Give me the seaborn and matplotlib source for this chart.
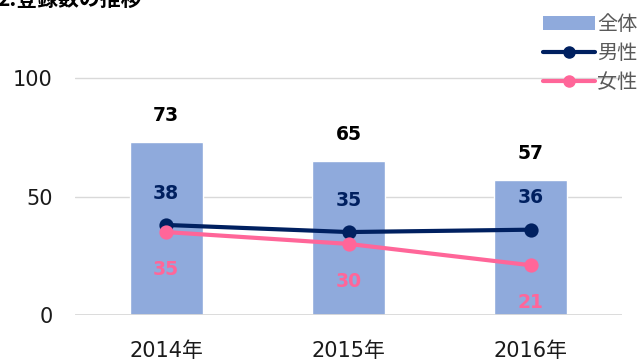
import matplotlib
matplotlib.use("Agg")
import matplotlib.pyplot as plt
import seaborn as sns
import pandas as pd
from matplotlib.patches import Patch
from matplotlib.lines import Line2D

sns.set_theme(style="white")
plt.rcParams["font.family"] = ["DejaVu Sans", "Noto Sans CJK JP"]

years = ["2014年", "2015年", "2016年"]
total = [73, 65, 57]
male = [38, 35, 36]
female = [35, 30, 21]

BAR = "#8FAADC"
MALE = "#002060"
FEMALE = "#FF6699"

df = pd.DataFrame({"year": years, "total": total, "male": male, "female": female})

fig = plt.figure(figsize=(6.39, 3.61), dpi=100)
ax = fig.add_axes([0.1174, 0.1274, 0.856, 0.7222])

sns.barplot(data=df, x="year", y="total", color=BAR, width=0.4, saturation=1, ax=ax)
sns.pointplot(data=df, x="year", y="male", color=MALE, markers="o",
              linewidth=3, markersize=8, ax=ax)
sns.pointplot(data=df, x="year", y="female", color=FEMALE, markers="o",
              linewidth=3, markersize=8, ax=ax)

ax.set_xlim(-0.5, 2.5)
ax.set_ylim(0, 110)
ax.set_yticks([0, 50, 100])
ax.yaxis.grid(True, color="#D9D9D9", linewidth=1)
ax.set_axisbelow(True)
ax.axhline(0, color="#D9D9D9", linewidth=2, zorder=1.5)
for s in ax.spines.values():
    s.set_visible(False)
ax.set_xlabel("")
ax.set_ylabel("")
ax.tick_params(axis="y", length=0, pad=16, labelsize=15, labelcolor="#1a1a1a")
ax.tick_params(axis="x", length=0, pad=19, labelsize=15, labelcolor="#1a1a1a")

# value labels
for i in range(len(years)):
    ax.annotate(str(total[i]), (i, total[i]), xytext=(0, 12), textcoords="offset points",
                ha="center", va="bottom", fontsize=13.5, fontweight="bold", color="black")
    ax.annotate(str(male[i]), (i, male[i]), xytext=(0, 16), textcoords="offset points",
                ha="center", va="bottom", fontsize=13.5, fontweight="bold", color=MALE)
    ax.annotate(str(female[i]), (i, female[i]), xytext=(0, -20), textcoords="offset points",
                ha="center", va="top", fontsize=13.5, fontweight="bold", color=FEMALE)

handles = [
    Patch(facecolor=BAR, edgecolor="none"),
    Line2D([], [], color=MALE, lw=3, marker="o", markersize=8),
    Line2D([], [], color=FEMALE, lw=3, marker="o", markersize=8),
]
leg = fig.legend(handles, ["全体", "男性", "女性"], loc="upper right",
                 bbox_to_anchor=(1.02, 0.998), frameon=False, fontsize=14.5,
                 handlelength=2.6, handletextpad=0.1, labelspacing=0.5,
                 borderaxespad=0.3)
for t in leg.get_texts():
    t.set_color("#595959")

fig.text(-0.004, 0.983, "2.登録数の推移", fontsize=15, fontweight="bold",
         color="black", ha="left", va="baseline",
         family=["Noto Sans CJK JP", "DejaVu Sans"])

fig.savefig("out.png", dpi=100)
